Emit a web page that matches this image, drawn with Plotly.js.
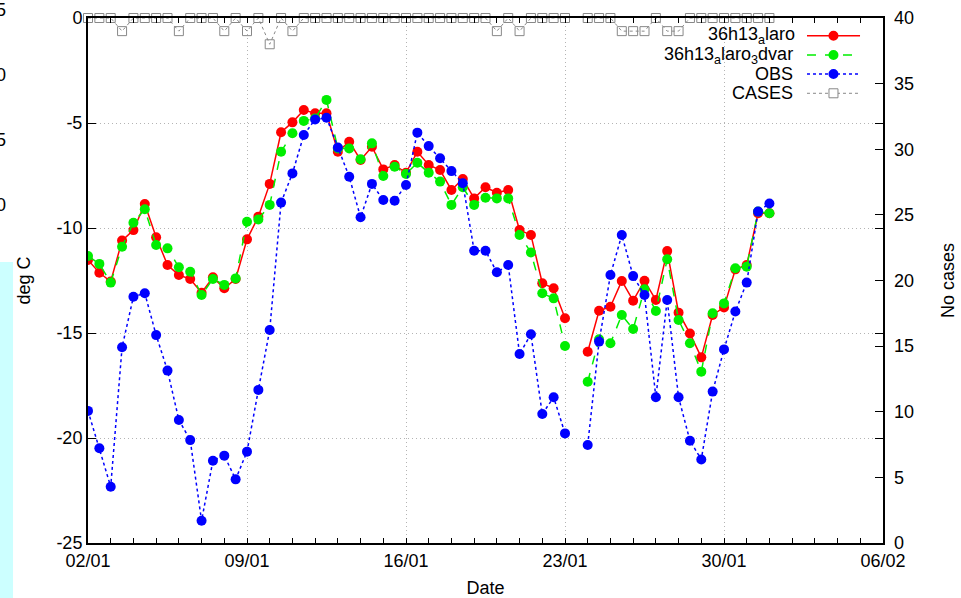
<!DOCTYPE html>
<html>
<head>
<meta charset="utf-8">
<script src="https://cdn.plot.ly/plotly-3.0.1.min.js"></script>
<style>html,body{margin:0;padding:0;background:#fff;}#chart{width:961px;height:598px;}</style>
</head>
<body>
<div id="chart"></div>
<script>
// ---- data (12-hourly valid times) ----
var times = [
 '2013-01-02 00:00','2013-01-02 12:00','2013-01-03 00:00','2013-01-03 12:00','2013-01-04 00:00','2013-01-04 12:00',
 '2013-01-05 00:00','2013-01-05 12:00','2013-01-06 00:00','2013-01-06 12:00','2013-01-07 00:00','2013-01-07 12:00',
 '2013-01-08 00:00','2013-01-08 12:00','2013-01-09 00:00','2013-01-09 12:00','2013-01-10 00:00','2013-01-10 12:00',
 '2013-01-11 00:00','2013-01-11 12:00','2013-01-12 00:00','2013-01-12 12:00','2013-01-13 00:00','2013-01-13 12:00',
 '2013-01-14 00:00','2013-01-14 12:00','2013-01-15 00:00','2013-01-15 12:00','2013-01-16 00:00','2013-01-16 12:00',
 '2013-01-17 00:00','2013-01-17 12:00','2013-01-18 00:00','2013-01-18 12:00','2013-01-19 00:00','2013-01-19 12:00',
 '2013-01-20 00:00','2013-01-20 12:00','2013-01-21 00:00','2013-01-21 12:00','2013-01-22 00:00','2013-01-22 12:00',
 '2013-01-23 00:00','2013-01-23 12:00','2013-01-24 00:00','2013-01-24 12:00','2013-01-25 00:00','2013-01-25 12:00',
 '2013-01-26 00:00','2013-01-26 12:00','2013-01-27 00:00','2013-01-27 12:00','2013-01-28 00:00','2013-01-28 12:00',
 '2013-01-29 00:00','2013-01-29 12:00','2013-01-30 00:00','2013-01-30 12:00','2013-01-31 00:00','2013-01-31 12:00',
 '2013-02-01 00:00'
];

var alaro = [
 -11.52,-12.13,-12.55,-10.60,-10.10,-8.86,-10.44,-11.76,-12.24,-12.43,
 -13.08,-12.35,-12.87,-12.43,-10.54,-9.46,-7.90,-5.44,-4.97,-4.38,
 -4.54,-4.54,-6.37,-5.89,-6.76,-6.13,-7.21,-7.00,-7.37,-6.37,
 -7.00,-7.24,-8.19,-7.67,-8.59,-8.06,-8.32,-8.19,-10.10,-10.33,
 -12.63,-12.87,-14.30,null,-15.89,-13.94,-13.75,-12.52,-13.46,-12.51,
 -13.43,-11.10,-14.03,-15.02,-16.16,-14.14,-13.78,-11.97,-11.76,-9.30,-9.30
];

var alaro3dvar = [
 -11.33,-11.71,-12.60,-10.89,-9.75,-9.11,-10.81,-10.97,-11.87,-12.08,
 -13.19,-12.43,-12.71,-12.40,-9.70,-9.59,-8.90,-6.37,-5.49,-4.90,
 -4.78,-3.90,-6.21,-6.21,-6.73,-5.97,-7.52,-7.08,-7.43,-6.89,
 -7.37,-7.79,-8.90,-8.06,-8.90,-8.56,-8.59,-8.59,-10.33,-11.17,
 -13.11,-13.35,-15.62,null,-17.32,-15.30,-15.49,-14.14,-14.81,-12.92,
 -13.95,-11.49,-14.38,-15.49,-16.84,-14.06,-13.59,-11.92,-11.84,-9.22,-9.30
];

var obs = [
 -18.71,-20.49,-22.32,-15.68,-13.27,-13.11,-15.10,-16.79,-19.14,-20.10,
 -23.94,-21.08,-20.84,-21.97,-20.65,-17.71,-14.86,-8.79,-7.40,-5.57,
 -4.83,-4.75,-6.17,-7.56,-9.49,-7.90,-8.67,-8.70,-7.95,-5.46,
 -6.10,-6.68,-7.29,-7.87,-11.08,-11.08,-12.11,-11.76,-16.00,-15.06,
 -18.86,-18.06,-19.78,null,-20.33,-15.41,-12.24,-10.33,-12.29,-13.19,
 -18.06,-13.43,-18.06,-20.13,-21.02,-17.79,-15.78,-13.98,-12.60,-9.22,-8.83
];

var cases = [
 40,40,40,39,40,40,40,40,39,40,
 40,40,39,40,39,40,38,40,39,40,
 40,40,40,40,40,40,40,40,40,40,
 40,40,40,40,40,40,39,40,39,40,
 40,40,40,null,40,40,40,39,39,39,
 40,39,39,40,40,40,40,40,40,40,40
];

// ---- tick labels ----
var xTickVals = ['2013-01-02','2013-01-09','2013-01-16','2013-01-23','2013-01-30','2013-02-06'];
var xTickText = ['02/01','09/01','16/01','23/01','30/01','06/02'];
var yTickVals = [-25,-20,-15,-10,-5,0];
var yTickText = ['-25','-20','-15','-10','-5','0'];
var y2TickVals = [0,5,10,15,20,25,30,35,40];
var y2TickText = ['0','5','10','15','20','25','30','35','40'];
var seriesNames = ['36h13<sub>a</sub>laro','36h13<sub>a</sub>laro<sub>3</sub>dvar','OBS','CASES'];

var FONT = 'Liberation Sans, Arial, sans-serif';

var traces = [
 {x: times, y: alaro, name: seriesNames[0], type: 'scatter', mode: 'lines+markers',
  line: {color: '#ff0000', width: 1.5}, marker: {color: '#ff0000', size: 10}, connectgaps: false},
 {x: times, y: alaro3dvar, name: seriesNames[1], type: 'scatter', mode: 'lines+markers',
  line: {color: '#00ee00', width: 1.5, dash: 'dash'}, marker: {color: '#00ee00', size: 10}, connectgaps: false},
 {x: times, y: obs, name: seriesNames[2], type: 'scatter', mode: 'lines+markers',
  line: {color: '#0000ff', width: 1.5, dash: 'dot'}, marker: {color: '#0000ff', size: 10}, connectgaps: false},
 {x: times, y: cases, name: seriesNames[3], type: 'scatter', mode: 'lines+markers', yaxis: 'y2',
  line: {color: '#888888', width: 1, dash: 'dot'},
  marker: {symbol: 'square-open', color: '#888888', size: 9, line: {width: 1, color: '#888888'}},
  connectgaps: false, cliponaxis: false}
];

// custom legend (text left of the sample line, as in the original)
var legTextX = 0.8893, legX0 = 0.9044, legX1 = 0.9711, legMX = 0.9377;
var legY = [0.9663, 0.9295, 0.8933, 0.8566];
var legShift = [2, 0, 0, 0];
var legColors = ['#ff0000', '#00ee00', '#0000ff', '#888888'];
var legDash = ['solid', 'dash', 'dot', 'dot'];

var shapes = [];
var annotations = [];
for (var i = 0; i < 4; i++) {
  annotations.push({xref: 'paper', yref: 'paper', x: legTextX, y: legY[i], xanchor: 'right', yanchor: 'middle',
    xshift: legShift[i], text: seriesNames[i], showarrow: false, font: {family: FONT, size: 18, color: '#000'}});
  shapes.push({type: 'line', xref: 'paper', yref: 'paper', x0: legX0, x1: legX1, y0: legY[i], y1: legY[i],
    line: {color: legColors[i], width: i === 3 ? 1 : 1.5, dash: legDash[i]}});
  if (i < 3) {
    shapes.push({type: 'circle', xref: 'paper', yref: 'paper', xsizemode: 'pixel', ysizemode: 'pixel',
      xanchor: legMX, yanchor: legY[i], x0: -5, x1: 5, y0: -5, y1: 5,
      fillcolor: legColors[i], line: {width: 0}});
  } else {
    shapes.push({type: 'rect', xref: 'paper', yref: 'paper', xsizemode: 'pixel', ysizemode: 'pixel',
      xanchor: legMX, yanchor: legY[i], x0: -4.5, x1: 4.5, y0: -4.5, y1: 4.5,
      fillcolor: '#ffffff', line: {width: 1, color: '#888888'}});
  }
}

// fragment of neighbouring image at the left edge
shapes.push({type: 'rect', xref: 'paper', yref: 'paper', x0: -0.1107, x1: -0.0943, y0: -0.11, y1: 0.5352,
  fillcolor: '#ccffff', line: {width: 0}, layer: 'below'});
var fragText = ['5', '0', '5', '0'];
var fragY = [1.0152, 0.8914, 0.7676, 0.6438];
for (var k = 0; k < fragText.length; k++) {
  annotations.push({xref: 'paper', yref: 'paper', x: -0.1006, y: fragY[k], xanchor: 'right', yanchor: 'middle',
    text: fragText[k], showarrow: false, font: {family: FONT, size: 18, color: '#000'}});
}

var layout = {
  width: 961, height: 598,
  margin: {l: 88, r: 78, t: 18, b: 55, pad: 0},
  paper_bgcolor: '#ffffff', plot_bgcolor: '#ffffff',
  font: {family: FONT, size: 18, color: '#000'},
  showlegend: false,
  xaxis: {
    type: 'date', range: ['2013-01-02', '2013-02-06'],
    tickmode: 'array', tickvals: xTickVals, ticktext: xTickText,
    ticks: 'inside', ticklen: 5, tickwidth: 1, tickcolor: '#000',
    minor: {tickmode: 'linear', tick0: '2013-01-02', dtick: 86400000, ticks: 'inside', ticklen: 5, tickwidth: 1, tickcolor: '#000', showgrid: false},
    showline: true, linecolor: '#000', linewidth: 2, mirror: 'ticks',
    showgrid: true, gridcolor: '#b4b4b4', griddash: '1px,3px', gridwidth: 1,
    zeroline: false,
    tickfont: {family: FONT, size: 18},
    title: {text: 'Date', font: {family: FONT, size: 18}, standoff: 15}
  },
  yaxis: {
    range: [-25, 0], tickmode: 'array', tickvals: yTickVals, ticktext: yTickText,
    ticks: 'inside', ticklen: 8, tickwidth: 1, tickcolor: '#000',
    showline: true, linecolor: '#000', linewidth: 2, mirror: 'ticks',
    showgrid: true, gridcolor: '#b4b4b4', griddash: '1px,3px', gridwidth: 1,
    zeroline: false,
    tickfont: {family: FONT, size: 18},
    title: {text: 'deg C', font: {family: FONT, size: 18}, standoff: 21}
  },
  yaxis2: {
    overlaying: 'y', side: 'right', range: [0, 40],
    tickmode: 'array', tickvals: y2TickVals, ticktext: y2TickText,
    ticks: 'inside', ticklen: 8, tickwidth: 1, tickcolor: '#000',
    showline: false, showgrid: false, zeroline: false,
    ticklabelstandoff: 10,
    tickfont: {family: FONT, size: 18},
    title: {text: 'No cases', font: {family: FONT, size: 18}, standoff: 28}
  },
  shapes: shapes,
  annotations: annotations
};

Plotly.newPlot('chart', traces, layout, {displayModeBar: false, responsive: false});
</script>
</body>
</html>
